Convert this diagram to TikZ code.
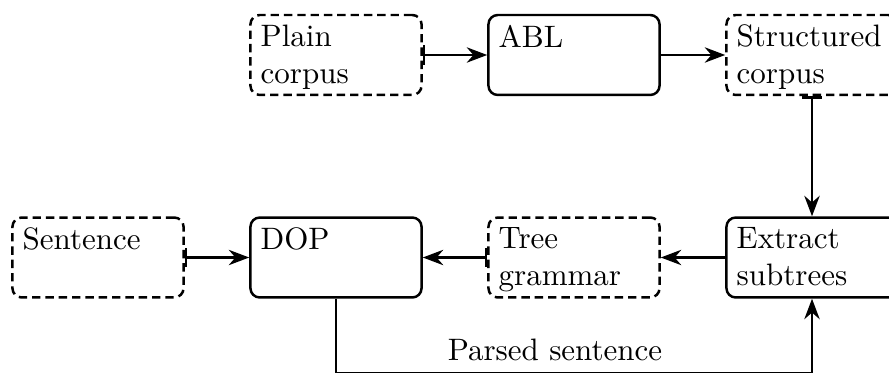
\documentclass[tikz,border=0pt]{standalone}
\usetikzlibrary{arrows.meta}
\newcommand\btext[1]{\parbox[c][19.4pt][t]{48.6pt}{\raggedright #1}}
\begin{document}
\begin{tikzpicture}[x=0.3226pt,y=-0.3226pt,
  box/.style={draw, thick, rounded corners=3pt, minimum width=55.2pt, minimum height=25.8pt, inner sep=0pt},
  solidbox/.style={box},
  dashbox/.style={box, dash pattern=on 2.7pt off 1.6pt},
  conn/.style={thick, {Bar}-{Stealth}},
  plainconn/.style={thick, -{Stealth}}
]
\useasboundingbox (0,0) rectangle (889,373);
% top row
\node[dashbox]  (plain)    at (336,55)    {\btext{Plain\\corpus}};
\node[solidbox] (abl)      at (574,55)    {\btext{ABL}};
\node[dashbox]  (struct)   at (812,55)    {\btext{Structured\\corpus}};
% bottom row
\node[dashbox]  (sentence) at (98,257.5)  {\btext{Sentence}};
\node[solidbox] (dop)      at (336,257.5) {\btext{DOP}};
\node[dashbox]  (tree)     at (574,257.5) {\btext{Tree\\grammar}};
\node[solidbox] (extract)  at (812,257.5) {\btext{Extract\\subtrees}};
\coordinate (bot) at (0,372.8);
% connectors
\draw[conn] (plain) -- (abl);
\draw[plainconn] (abl) -- (struct);
\draw[conn] (struct) -- (extract);
\draw[plainconn] (extract) -- (tree);
\draw[conn] (tree) -- (dop);
\draw[conn] (sentence) -- (dop);
\draw[plainconn] (dop.south) -- (dop.south |- bot) -| (extract.south);
\node (lbl) at (555,350) {Parsed sentence};
\end{tikzpicture}
\end{document}
